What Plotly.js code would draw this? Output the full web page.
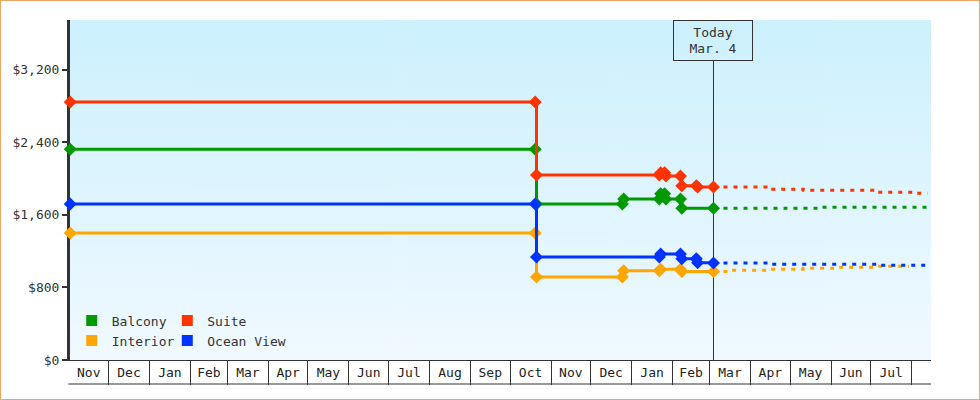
<!DOCTYPE html>
<html>
<head>
<meta charset="utf-8">
<script src="https://cdn.plot.ly/plotly-3.0.1.min.js"></script>
<style>
  html, body { margin: 0; padding: 0; background: #fff; }
  #frame { width: 980px; height: 400px; box-sizing: border-box; border: 1px solid #e8a862; }
  #chart { width: 978px; height: 398px; }
</style>
</head>
<body>
<div id="frame"><div id="chart"></div></div>
<script>
// ---- data ----
const seriesNames = ['Balcony', 'Suite', 'Interior', 'Ocean View'];
const seriesColors = ['#009900', '#ff3300', '#ffa500', '#0033ff'];

const balconyDates = ['2021-11-02', '2022-10-20', '2022-10-21', '2022-12-25', '2022-12-26', '2023-01-22', '2023-01-23', '2023-01-26', '2023-01-27', '2023-02-07', '2023-02-08', '2023-03-04'];
const balconyPrices = [2325, 2325, 1721, 1721, 1776, 1776, 1835, 1835, 1776, 1776, 1674, 1674];
const balconyProjDates = ['2023-03-04', '2023-05-24', '2023-08-13'];
const balconyProjPrices = [1674, 1685, 1685];

const suiteDates = ['2021-11-02', '2022-10-20', '2022-10-21', '2023-01-22', '2023-01-23', '2023-01-26', '2023-01-27', '2023-02-07', '2023-02-08', '2023-02-19', '2023-02-20', '2023-03-04'];
const suitePrices = [2845, 2845, 2041, 2041, 2065, 2065, 2030, 2030, 1923, 1923, 1908, 1908];
const suiteProjDates = ['2023-03-04', '2023-04-15', '2023-05-11', '2023-07-06', '2023-08-02', '2023-08-13'];
const suiteProjPrices = [1908, 1883, 1872, 1850, 1839, 1839];

const interiorDates = ['2021-11-02', '2022-10-20', '2022-10-21', '2022-12-25', '2022-12-26', '2023-01-22', '2023-01-23', '2023-02-07', '2023-02-08', '2023-03-04'];
const interiorPrices = [1400, 1400, 915, 915, 985, 985, 1001, 1001, 975, 975];
const interiorProjDates = ['2023-03-04', '2023-03-16', '2023-04-15', '2023-05-11', '2023-06-07', '2023-07-06', '2023-07-30'];
const interiorProjPrices = [975, 990, 1001, 1012, 1023, 1034, 1034];

const oceanDates = ['2021-11-02', '2022-10-20', '2022-10-21', '2023-01-22', '2023-01-23', '2023-02-07', '2023-02-08', '2023-02-19', '2023-02-20', '2023-03-04'];
const oceanPrices = [1721, 1721, 1135, 1135, 1168, 1168, 1118, 1118, 1072, 1070];
const oceanProjDates = ['2023-03-04', '2023-04-15', '2023-07-06', '2023-08-13'];
const oceanProjPrices = [1070, 1056, 1045, 1045];

const yTickValues = [0, 800, 1600, 2400, 3200];
const todayDate = '2023-03-04';
const todayText = 'Today<br>Mar. 4';
const xRange = ['2021-11-01 20:00', '2023-08-15 16:00'];
const yRange = [0, 3750];

// ---- build ----
const FONT = 'DejaVu Sans Mono, Liberation Mono, monospace';
const hist = [
  [balconyDates, balconyPrices, balconyProjDates, balconyProjPrices],
  [suiteDates, suitePrices, suiteProjDates, suiteProjPrices],
  [interiorDates, interiorPrices, interiorProjDates, interiorProjPrices],
  [oceanDates, oceanPrices, oceanProjDates, oceanProjPrices]
];

const traces = [];
hist.forEach((s, i) => {
  traces.push({
    x: s[2], y: s[3], type: 'scatter', mode: 'lines', name: seriesNames[i] + ' (projected)',
    line: { color: seriesColors[i], width: 3, shape: 'hv', dash: '4px,6px' },
    showlegend: false, hoverinfo: 'x+y', cliponaxis: false
  });
});
hist.forEach((s, i) => {
  traces.push({
    x: s[0], y: s[1], type: 'scatter', mode: 'lines+markers', name: seriesNames[i],
    line: { color: seriesColors[i], width: 3, shape: 'hv' },
    marker: { symbol: 'diamond', size: 10, color: seriesColors[i] },
    showlegend: false, cliponaxis: false
  });
});
// legend entries (square swatches)
const legendOf = ['legend', 'legend2', 'legend', 'legend2'];
hist.forEach((s, i) => {
  traces.push({
    x: [null], y: [null], type: 'scatter', mode: 'markers', name: seriesNames[i],
    marker: { symbol: 'square', size: 11, color: seriesColors[i] },
    legend: legendOf[i], showlegend: true, hoverinfo: 'skip'
  });
});

// gradient background image for the plotting area
const cv = document.createElement('canvas');
cv.width = 4; cv.height = 340;
const ctx = cv.getContext('2d');
const g = ctx.createLinearGradient(0, 0, 0, 340);
g.addColorStop(0, '#ccf0fd');
g.addColorStop(1, '#f0f9ff');
ctx.fillStyle = g; ctx.fillRect(0, 0, 4, 340);
const bgURL = cv.toDataURL('image/png');

const legendCommon = {
  bgcolor: 'rgba(0,0,0,0)', borderwidth: 0, orientation: 'v', traceorder: 'normal',
  font: { family: FONT, size: 13, color: '#333' }, itemsizing: 'trace',
  xanchor: 'left', yanchor: 'top', tracegroupgap: 0
};

const layout = {
  width: 978, height: 398,
  margin: { l: 69, r: 48, t: 19, b: 39, pad: 0 },
  paper_bgcolor: '#ffffff', plot_bgcolor: 'rgba(0,0,0,0)',
  font: { family: FONT, size: 13, color: '#333' },
  showlegend: true,
  legend: Object.assign({}, legendCommon, { x: 0.002, y: 0.16 }),
  legend2: Object.assign({}, legendCommon, { x: 0.113, y: 0.16 }),
  xaxis: {
    type: 'date', range: xRange, tickmode: 'linear', tick0: '2021-11-01', dtick: 'M1',
    ticklabelmode: 'period', tickformat: '%b', ticks: 'outside', ticklen: 24, tickwidth: 1,
    tickcolor: '#333', showline: true, linewidth: 1, linecolor: '#333', showgrid: false,
    zeroline: false, ticklabelstandoff: -24, layer: 'below traces',
    tickfont: { family: FONT, size: 13, color: '#222' }
  },
  yaxis: {
    range: yRange, tickmode: 'array', tickvals: yTickValues, tickformat: '$,d',
    ticks: 'outside', ticklen: 5, tickwidth: 2, tickcolor: '#333', showline: true, linewidth: 3,
    linecolor: '#333', showgrid: false, zeroline: false, layer: 'below traces',
    tickfont: { family: FONT, size: 13, color: '#333' }
  },
  images: [{ source: bgURL, xref: 'paper', yref: 'paper', x: 0, y: 1, sizex: 1, sizey: 1,
             sizing: 'stretch', layer: 'below', xanchor: 'left', yanchor: 'top' }],
  shapes: [
    { type: 'line', xref: 'x', yref: 'paper', x0: todayDate, x1: todayDate, y0: 0, y1: 0.882,
      line: { color: '#333', width: 1 }, layer: 'below' },
    { type: 'line', xref: 'paper', yref: 'paper', x0: -0.002, x1: 1, y0: -24 / 340, y1: -24 / 340,
      line: { color: '#333', width: 1 } }
  ],
  annotations: [
    { x: todayDate, xref: 'x', y: 1, yref: 'paper', yanchor: 'top', xanchor: 'center',
      text: todayText, showarrow: false, font: { family: FONT, size: 13, color: '#333' },
      bordercolor: '#333', borderwidth: 1, borderpad: 1, width: 76, height: 37,
      bgcolor: 'rgba(0,0,0,0)' }
  ]
};

Plotly.newPlot('chart', traces, layout, { displayModeBar: false, staticPlot: true });
</script>
</body>
</html>
